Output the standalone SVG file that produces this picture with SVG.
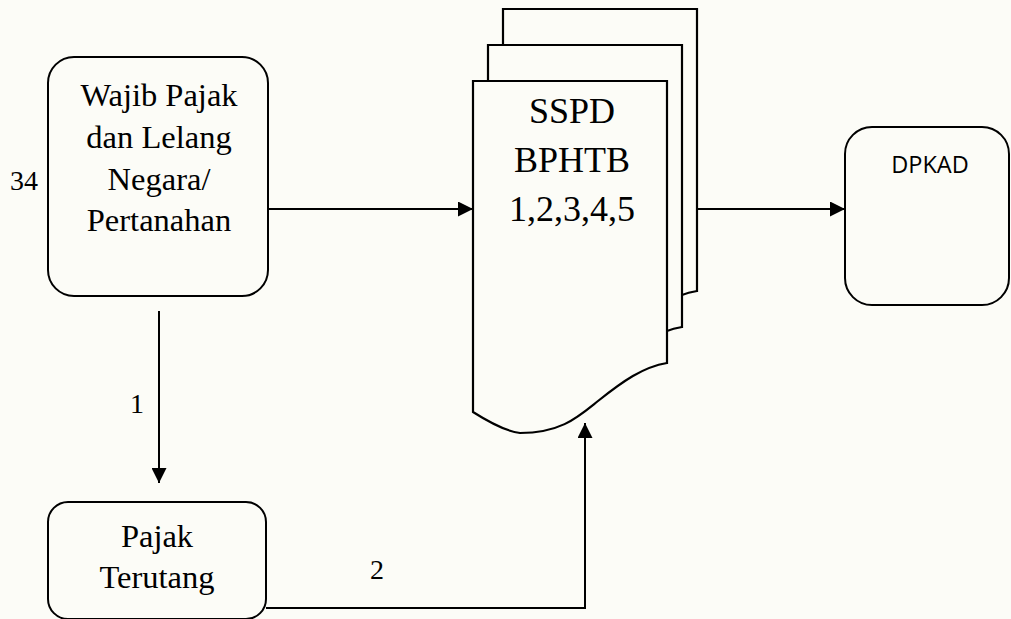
<svg xmlns="http://www.w3.org/2000/svg" width="1011" height="619" viewBox="0 0 1011 619">
<defs>
<style>
.box{fill:#fcfcf7;stroke:#000;stroke-width:2}
.doc{fill:#fcfcf7;stroke:#000;stroke-width:2.2;stroke-linejoin:miter}
.t{font-family:"Liberation Serif","Times New Roman",serif;fill:#000;text-anchor:middle}
.s{font-family:"Open Sans","Liberation Sans",sans-serif;fill:#000;text-anchor:middle}
.ln{fill:none;stroke:#000;stroke-width:2}
</style>
<marker id="ah" viewBox="0 0 10 10" refX="10" refY="5" markerWidth="15" markerHeight="15" markerUnits="userSpaceOnUse" orient="auto">
<path d="M0,0 L10,5 L0,10 Z" fill="#000"/>
</marker>
<path id="page" d="M0,0 H194 V282 C170,286 150,300 125,320 C105,336 88,352 47,352 Q30,350 0,331 Z"/>
</defs>
<rect width="1011" height="619" fill="#fcfcf7"/>

<g id="wajib-pajak">
<rect class="box" x="48" y="57" width="220" height="239" rx="26" ry="26"/>
<text class="t" font-size="32.5" x="159" y="106">Wajib Pajak</text>
<text class="t" font-size="32.5" x="159" y="148">dan Lelang</text>
<text class="t" font-size="32.5" x="159" y="190">Negara/</text>
<text class="t" font-size="32.5" x="159" y="231">Pertanahan</text>
<text class="t" font-size="28" x="24" y="190">34</text>
</g>

<g id="sspd">
<use href="#page" class="doc" x="503" y="9"/>
<use href="#page" class="doc" x="488" y="45"/>
<use href="#page" class="doc" x="473" y="81"/>
<text class="t" font-size="36" x="572" y="123">SSPD</text>
<text class="t" font-size="36" x="572" y="172">BPHTB</text>
<text class="t" font-size="36" x="572" y="221">1,2,3,4,5</text>
</g>

<g id="dpkad">
<rect class="box" x="845" y="127" width="164" height="178" rx="27" ry="27"/>
<text class="s" font-size="23.5" x="930" y="173">DPKAD</text>
</g>

<g id="pajak-terutang">
<rect class="box" x="48" y="502" width="218" height="117" rx="20" ry="20"/>
<text class="t" font-size="32.5" x="157" y="547">Pajak</text>
<text class="t" font-size="32.5" x="157" y="588">Terutang</text>
</g>

<g id="connectors">
<line class="ln" x1="268" y1="209" x2="473" y2="209" marker-end="url(#ah)"/>
<line class="ln" x1="698" y1="209" x2="845" y2="209" marker-end="url(#ah)"/>
<line class="ln" x1="159" y1="311" x2="159" y2="483" marker-end="url(#ah)"/>
<polyline class="ln" points="266,608 585,608 585,423" marker-end="url(#ah)"/>
<text class="t" font-size="28" x="137" y="413">1</text>
<text class="t" font-size="28" x="377" y="579">2</text>
</g>
</svg>
